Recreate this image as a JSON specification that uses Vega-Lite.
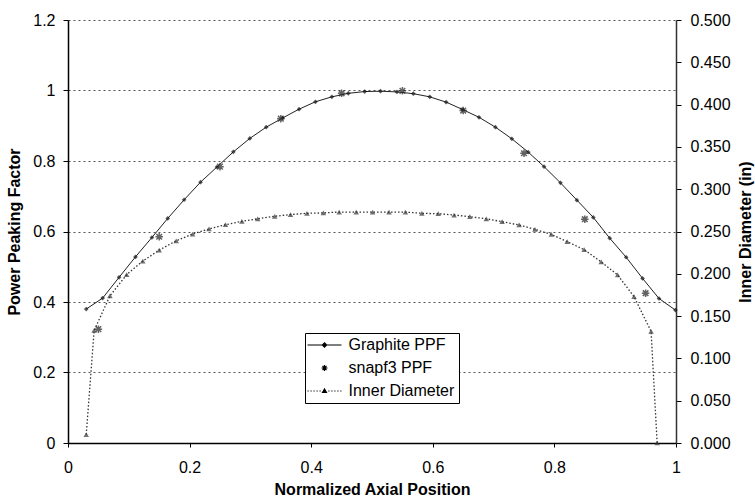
{
  "$schema": "https://vega.github.io/schema/vega-lite/v6.json",
  "width": 608,
  "height": 423,
  "autosize": {"type": "none"},
  "padding": {"left": 68, "top": 20, "right": 79, "bottom": 59},
  "background": "white",
  "config": {
    "view": {"stroke": null},
    "font": "Liberation Sans",
    "axis": {"labelFont": "Liberation Sans", "titleFont": "Liberation Sans", "labelColor": "black", "titleColor": "black", "labelFontSize": 16, "titleFontSize": 16, "titleFontWeight": "bold", "domainColor": "black", "tickColor": "black"},
    "legend": {"symbolStrokeColor": "black", "symbolStrokeWidth": 1}
  },
  "datasets": {
    "pts": [
      {"series": "Graphite PPF", "x": 0.030, "v": 0.380},
      {"series": "Graphite PPF", "x": 0.057, "v": 0.411},
      {"series": "Graphite PPF", "x": 0.084, "v": 0.470},
      {"series": "Graphite PPF", "x": 0.111, "v": 0.528},
      {"series": "Graphite PPF", "x": 0.138, "v": 0.583},
      {"series": "Graphite PPF", "x": 0.164, "v": 0.637},
      {"series": "Graphite PPF", "x": 0.191, "v": 0.690},
      {"series": "Graphite PPF", "x": 0.218, "v": 0.740},
      {"series": "Graphite PPF", "x": 0.245, "v": 0.783},
      {"series": "Graphite PPF", "x": 0.272, "v": 0.826},
      {"series": "Graphite PPF", "x": 0.299, "v": 0.864},
      {"series": "Graphite PPF", "x": 0.326, "v": 0.896},
      {"series": "Graphite PPF", "x": 0.353, "v": 0.922},
      {"series": "Graphite PPF", "x": 0.380, "v": 0.947},
      {"series": "Graphite PPF", "x": 0.407, "v": 0.968},
      {"series": "Graphite PPF", "x": 0.434, "v": 0.982},
      {"series": "Graphite PPF", "x": 0.461, "v": 0.992},
      {"series": "Graphite PPF", "x": 0.488, "v": 0.997},
      {"series": "Graphite PPF", "x": 0.514, "v": 0.998},
      {"series": "Graphite PPF", "x": 0.541, "v": 0.996},
      {"series": "Graphite PPF", "x": 0.568, "v": 0.991},
      {"series": "Graphite PPF", "x": 0.595, "v": 0.982},
      {"series": "Graphite PPF", "x": 0.622, "v": 0.967},
      {"series": "Graphite PPF", "x": 0.649, "v": 0.946},
      {"series": "Graphite PPF", "x": 0.676, "v": 0.924},
      {"series": "Graphite PPF", "x": 0.703, "v": 0.896},
      {"series": "Graphite PPF", "x": 0.730, "v": 0.863},
      {"series": "Graphite PPF", "x": 0.757, "v": 0.825},
      {"series": "Graphite PPF", "x": 0.783, "v": 0.784},
      {"series": "Graphite PPF", "x": 0.810, "v": 0.738},
      {"series": "Graphite PPF", "x": 0.837, "v": 0.689},
      {"series": "Graphite PPF", "x": 0.864, "v": 0.640},
      {"series": "Graphite PPF", "x": 0.891, "v": 0.581},
      {"series": "Graphite PPF", "x": 0.918, "v": 0.527},
      {"series": "Graphite PPF", "x": 0.945, "v": 0.467},
      {"series": "Graphite PPF", "x": 0.972, "v": 0.410},
      {"series": "Graphite PPF", "x": 0.999, "v": 0.377},
      {"series": "snapf3 PPF", "x": 0.05, "v": 0.323},
      {"series": "snapf3 PPF", "x": 0.15, "v": 0.585},
      {"series": "snapf3 PPF", "x": 0.25, "v": 0.784},
      {"series": "snapf3 PPF", "x": 0.35, "v": 0.920},
      {"series": "snapf3 PPF", "x": 0.45, "v": 0.992},
      {"series": "snapf3 PPF", "x": 0.55, "v": 0.999},
      {"series": "snapf3 PPF", "x": 0.65, "v": 0.943},
      {"series": "snapf3 PPF", "x": 0.75, "v": 0.822},
      {"series": "snapf3 PPF", "x": 0.85, "v": 0.635},
      {"series": "snapf3 PPF", "x": 0.95, "v": 0.425}
    ],
    "dia": [
      {"series": "Inner Diameter", "x": 0.030, "v": 0.010},
      {"series": "Inner Diameter", "x": 0.043, "v": 0.133},
      {"series": "Inner Diameter", "x": 0.069, "v": 0.174},
      {"series": "Inner Diameter", "x": 0.0965, "v": 0.199},
      {"series": "Inner Diameter", "x": 0.123, "v": 0.215},
      {"series": "Inner Diameter", "x": 0.150, "v": 0.228},
      {"series": "Inner Diameter", "x": 0.178, "v": 0.239},
      {"series": "Inner Diameter", "x": 0.205, "v": 0.247},
      {"series": "Inner Diameter", "x": 0.232, "v": 0.253},
      {"series": "Inner Diameter", "x": 0.259, "v": 0.258},
      {"series": "Inner Diameter", "x": 0.286, "v": 0.262},
      {"series": "Inner Diameter", "x": 0.312, "v": 0.265},
      {"series": "Inner Diameter", "x": 0.340, "v": 0.268},
      {"series": "Inner Diameter", "x": 0.366, "v": 0.270},
      {"series": "Inner Diameter", "x": 0.393, "v": 0.2715},
      {"series": "Inner Diameter", "x": 0.420, "v": 0.272},
      {"series": "Inner Diameter", "x": 0.446, "v": 0.273},
      {"series": "Inner Diameter", "x": 0.474, "v": 0.273},
      {"series": "Inner Diameter", "x": 0.501, "v": 0.273},
      {"series": "Inner Diameter", "x": 0.528, "v": 0.273},
      {"series": "Inner Diameter", "x": 0.555, "v": 0.273},
      {"series": "Inner Diameter", "x": 0.582, "v": 0.2715},
      {"series": "Inner Diameter", "x": 0.609, "v": 0.271},
      {"series": "Inner Diameter", "x": 0.635, "v": 0.2695},
      {"series": "Inner Diameter", "x": 0.661, "v": 0.2675},
      {"series": "Inner Diameter", "x": 0.688, "v": 0.265},
      {"series": "Inner Diameter", "x": 0.714, "v": 0.2616},
      {"series": "Inner Diameter", "x": 0.742, "v": 0.2577},
      {"series": "Inner Diameter", "x": 0.768, "v": 0.2526},
      {"series": "Inner Diameter", "x": 0.795, "v": 0.2465},
      {"series": "Inner Diameter", "x": 0.821, "v": 0.238},
      {"series": "Inner Diameter", "x": 0.849, "v": 0.2285},
      {"series": "Inner Diameter", "x": 0.877, "v": 0.214},
      {"series": "Inner Diameter", "x": 0.904, "v": 0.1986},
      {"series": "Inner Diameter", "x": 0.931, "v": 0.173},
      {"series": "Inner Diameter", "x": 0.959, "v": 0.132},
      {"series": "Inner Diameter", "x": 0.969, "v": 0.000}
    ]
  },
  "encoding": {
    "x": {"field": "x", "type": "quantitative", "scale": {"domain": [0, 1], "nice": false, "zero": false},
      "axis": {"title": "Normalized Axial Position", "values": [0, 0.2, 0.4, 0.6, 0.8, 1], "format": "~g", "grid": false, "domainWidth": 1.5, "tickSize": 4, "labelPadding": 12, "titlePadding": 6, "labelFlush": false}}
  },
  "layer": [
    {
      "data": {"name": "pts"},
      "encoding": {
        "y": {"field": "v", "type": "quantitative", "scale": {"domain": [0, 1.2], "nice": false, "zero": true},
          "axis": {"orient": "left", "title": "Power Peaking Factor", "values": [0, 0.2, 0.4, 0.6, 0.8, 1, 1.2], "format": "~g", "grid": true, "gridDash": [2, 3], "gridColor": "#555", "gridWidth": 1, "domainWidth": 1.5, "tickSize": 5, "labelPadding": 8, "titlePadding": 10, "labelFlush": false}}
      },
      "layer": [
        {
          "transform": [{"filter": "datum.series === 'Graphite PPF'"}],
          "mark": {"type": "line", "color": "#222", "strokeWidth": 1}
        },
        {
          "transform": [{"filter": "datum.series === 'Graphite PPF'"}],
          "mark": {"type": "point", "shape": "diamond", "filled": true, "color": "#111", "size": 22}
        },
        {
          "transform": [{"filter": "datum.series === 'snapf3 PPF'"}],
          "mark": {"type": "point", "shape": "M-1,0H1M0,-1V1M-0.75,-0.75L0.75,0.75M-0.75,0.75L0.75,-0.75", "filled": false, "color": "#222", "size": 56, "strokeWidth": 1.5}
        },
        {
          "transform": [{"filter": "false"}],
          "mark": {"type": "point", "filled": true, "fill": "black", "stroke": "black", "strokeWidth": 1},
          "encoding": {"shape": {"field": "series", "type": "nominal",
            "scale": {"domain": ["Graphite PPF", "snapf3 PPF", "Inner Diameter"], "range": [
              "M-8.5,-0.25H8.5V0.25H-8.5Z M0,-1.5L1.5,0L0,1.5L-1.5,0Z",
              "M-1.5,-0.3H1.5V0.3H-1.5Z M-0.3,-1.5H0.3V1.5H-0.3Z M-1.2,-0.8L-0.8,-1.2L1.2,0.8L0.8,1.2Z M0.8,-1.2L1.2,-0.8L-0.8,1.2L-1.2,0.8Z",
              "M-8.5,-0.3h0.6v0.6h-0.6Z M-7,-0.3h0.6v0.6h-0.6Z M-5.5,-0.3h0.6v0.6h-0.6Z M-4,-0.3h0.6v0.6h-0.6Z M-2.5,-0.3h0.6v0.6h-0.6Z M1.9,-0.3h0.6v0.6h-0.6Z M3.4,-0.3h0.6v0.6h-0.6Z M4.9,-0.3h0.6v0.6h-0.6Z M6.4,-0.3h0.6v0.6h-0.6Z M7.9,-0.3h0.6v0.6h-0.6Z M0,-1.6L1.5,1L-1.5,1Z"]},
            "legend": {"orient": "none", "legendX": 237, "legendY": 313, "title": null, "strokeColor": "black", "fillColor": "white", "padding": 4, "rowPadding": 7, "symbolSize": 16, "symbolOffset": 7.5, "labelOffset": 16, "symbolOpacity": 1, "labelFont": "Liberation Sans", "labelFontSize": 16, "labelColor": "black", "labelLimit": 200,
              "encode": {"symbols": {"fill": {"value": "black"}, "opacity": {"value": 1}}}}}}
        }
      ]
    },
    {
      "data": {"name": "dia"},
      "encoding": {
        "y": {"field": "v", "type": "quantitative", "scale": {"domain": [0, 0.5], "nice": false, "zero": true},
          "axis": {"orient": "right", "title": "Inner Diameter (in)", "values": [0, 0.05, 0.1, 0.15, 0.2, 0.25, 0.3, 0.35, 0.4, 0.45, 0.5], "format": ".3f", "grid": false, "domainWidth": 1.5, "domainColor": "#333", "tickSize": 5, "labelPadding": 9, "titlePadding": 7, "titleAngle": 270, "titleBaseline": "top", "labelFlush": false}}
      },
      "layer": [
        {
          "mark": {"type": "line", "color": "#333", "strokeWidth": 1.3, "strokeDash": [1.5, 2]}
        },
        {
          "mark": {"type": "point", "shape": "triangle-up", "filled": true, "color": "#333", "size": 30}
        }
      ]
    }
  ],
  "resolve": {"scale": {"y": "independent"}, "axis": {"y": "independent"}}
}
